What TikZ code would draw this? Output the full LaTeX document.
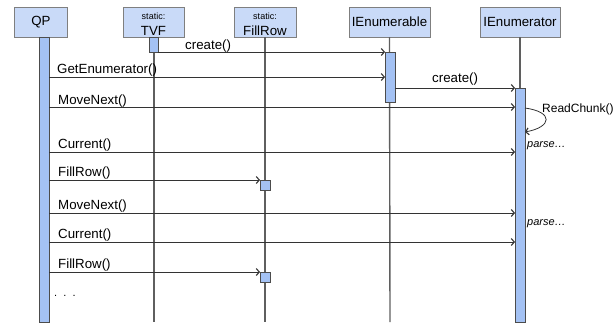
\documentclass[tikz,border=0pt]{standalone}
\usepackage{fontspec}
\setmainfont{Liberation Sans}
\usetikzlibrary{arrows.meta}

\definecolor{headfill}{HTML}{C9DAF8}
\definecolor{barfill}{HTML}{A4C2F4}
\definecolor{lifegray}{HTML}{5F5F5F}
\definecolor{boxgray}{HTML}{7F7F7F}

\newcommand{\lblfont}{\fontsize{13.3}{15}\selectfont}

\tikzset{
    head/.style={draw=boxgray, fill=headfill, line width=0.8pt, minimum height=30pt,
        inner sep=0pt, outer sep=0pt, font=\lblfont},
    life/.style={draw=lifegray, line width=1.4pt},
    actbar/.style={draw=black!70, fill=barfill, line width=0.8pt, minimum width=10pt,
        inner sep=0pt, outer sep=0pt, anchor=north},
    msg/.style={draw=black!80, line width=0.8pt, -{Straight Barb[length=3pt,width=7pt,line width=1.1pt]}},
    lbl/.style={anchor=base west, inner sep=0pt, font=\lblfont},
    note/.style={anchor=base west, inner sep=0pt, font=\fontsize{11}{13}\selectfont\itshape}
}

\begin{document}
\begin{tikzpicture}[x=1pt, y=-1pt]
    \useasboundingbox (0,0) rectangle (616,325);

    % heads
    \node[head, minimum width=53pt] (qp) at (41,22) {QP};
    \node[head, minimum width=61pt] (tvf) at (153.5,22) {};
    \node[head, minimum width=62pt] (fillrow) at (265,22) {};
    \node[head, minimum width=81pt] (enb) at (389.5,22) {IEnumerable};
    \node[head, minimum width=80pt] (enr) at (520,22) {IEnumerator};

    \node[anchor=base, inner sep=0pt, font=\fontsize{9}{10}\selectfont] at (tvf.center |- 0,19) {static:};
    \node[anchor=base, inner sep=0pt, font=\lblfont] at (tvf.center |- 0,35) {TVF};
    \node[anchor=base, inner sep=0pt, font=\fontsize{9}{10}\selectfont] at (fillrow.center |- 0,19) {static:};
    \node[anchor=base, inner sep=0pt, font=\lblfont] at (fillrow.center |- 0,35) {FillRow};

    % lifelines
    \coordinate (tvfend) at (154,322);
    \coordinate (fillend) at (265,322);
    \coordinate (enbend) at (390,322);
    \coordinate (enrend) at (520,322);
    \draw[life] (154,37) -- (tvfend);
    \draw[life] (fillrow.south) -- (fillend);
    \draw[life] (enb.south) -- (enbend);
    \draw[life] (enr.south) -- (enrend);

    % activation bars
    \node[actbar, minimum height=285pt] (qpbar) at (44,37) {};
    \node[actbar, minimum height=15pt, minimum width=9pt] (tvfbar) at (153.5,37) {};
    \node[actbar, minimum height=50pt] (enbbar) at (390,52) {};
    \node[actbar, minimum height=234pt] (enrbar) at (520,88) {};
    \node[actbar, minimum height=10pt] (fr1) at (265,180) {};
    \node[actbar, minimum height=10pt] (fr2) at (265,272) {};

    % messages
    \draw[msg] (tvfbar.south east) -- (enbbar.north west);
    \node[lbl] at (185,49) {create()};

    \draw[msg] (qpbar.east |- 0,77) -- (enbbar.west |- 0,77);
    \node[lbl] at (57,73) {GetEnumerator()};

    \draw[msg] (enbbar.east |- enrbar.north) -- (enrbar.north west);
    \node[lbl] at (432,82) {create()};

    \draw[msg] (qpbar.east |- 0,107) -- (enrbar.west |- 0,107);
    \node[lbl] at (58,104) {MoveNext()};

    \draw[msg] (enrbar.east |- 0,108) .. controls (554,112) and (552,127) .. (enrbar.east |- 0,132);
    \node[lbl, font=\fontsize{12}{14}\selectfont] at (542,112) {ReadChunk()};
    \node[note] at (527,147) {parse\ldots};

    \draw[msg] (qpbar.east |- 0,152) -- (enrbar.west |- 0,152);
    \node[lbl] at (58,148) {Current()};

    \draw[msg] (qpbar.east |- fr1.north west) -- (fr1.north west);
    \node[lbl] at (58,176) {FillRow()};

    \draw[msg] (qpbar.east |- 0,213) -- (enrbar.west |- 0,213);
    \node[lbl] at (58,209) {MoveNext()};
    \node[note] at (527,225) {parse\ldots};

    \draw[msg] (qpbar.east |- 0,242) -- (enrbar.west |- 0,242);
    \node[lbl] at (58,238) {Current()};

    \draw[msg] (qpbar.east |- fr2.north west) -- (fr2.north west);
    \node[lbl] at (58,268) {FillRow()};

    \node[lbl, font=\fontsize{11}{13}\selectfont] at (54,296) {.\ \ .\ \ .};

\end{tikzpicture}
\end{document}
